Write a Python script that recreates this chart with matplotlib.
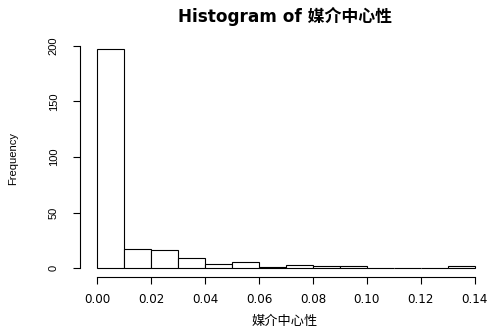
import numpy as np
import matplotlib
matplotlib.use('Agg')
import matplotlib.pyplot as plt

plt.rcParams['font.family'] = ['DejaVu Sans', 'Noto Sans CJK SC']

# histogram of 媒介中心性, bins of width 0.01
bin_edges = [0.00, 0.01, 0.02, 0.03, 0.04, 0.05, 0.06, 0.07,
             0.08, 0.09, 0.10, 0.11, 0.12, 0.13, 0.14]
counts = [197, 17, 16, 9, 4, 5, 1, 3, 2, 2, 0, 0, 0, 2]
x_ticks = [0.00, 0.02, 0.04, 0.06, 0.08, 0.10, 0.12, 0.14]
y_ticks = [0, 50, 100, 150, 200]

fig = plt.figure(figsize=(4.9, 3.31), dpi=100)
ax = fig.add_axes([80/490, 54/331, 410/490, 237/331])

ax.bar(bin_edges[:-1], counts, width=np.diff(bin_edges), align='edge',
       color='white', edgecolor='black', linewidth=0.8)

ax.set_xlim(-0.0063, 0.1456)
ax.set_ylim(-8.1, 205.4)

for s in ['top', 'right']:
    ax.spines[s].set_visible(False)
ax.spines['left'].set_bounds(0, 200)
ax.spines['bottom'].set_bounds(0, 0.14)
ax.spines['left'].set_linewidth(0.8)
ax.spines['bottom'].set_linewidth(0.8)

ax.set_xticks(x_ticks)
ax.set_xticklabels(['%.2f' % v for v in x_ticks], fontsize=8.6)
ax.set_yticks(y_ticks)
ax.set_yticklabels([str(v) for v in y_ticks], rotation=90, va='center',
                   family='Liberation Sans', fontsize=8)
ax.tick_params(length=5.3, width=0.8)
ax.tick_params(axis='x', pad=6)
ax.tick_params(axis='y', pad=10)

ax.set_title('Histogram of 媒介中心性', fontsize=12.2, fontweight='bold', pad=13)
ax.set_xlabel('媒介中心性', family=['Noto Sans CJK SC'], fontsize=9.5)
ax.xaxis.set_label_coords(0.5, -0.16)
ax.set_ylabel('Frequency', family='Liberation Sans', fontsize=8)
ax.yaxis.set_label_coords(-0.15, 0.5)

fig.savefig('out.png', dpi=100)
